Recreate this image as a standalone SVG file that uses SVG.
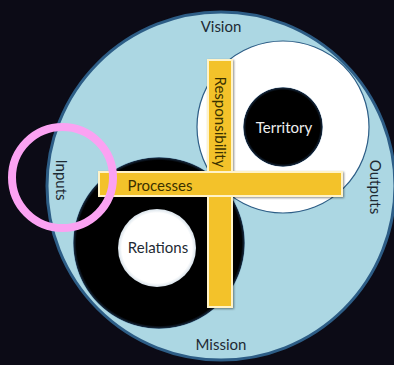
<svg xmlns="http://www.w3.org/2000/svg" width="394" height="365" viewBox="0 0 394 365">
<style>
.lbl{font-family:Lato,"Open Sans","Liberation Sans",sans-serif;font-size:15px;text-anchor:middle;dominant-baseline:central}
.dark{fill:#1e2a33}
.bar{fill:#f3c22b;stroke:#fff3c8;stroke-width:2}
</style>
<defs>
<radialGradient id="blk" cx="0.5" cy="0.5" r="0.5">
<stop offset="0.92" stop-color="#000"/>
<stop offset="0.98" stop-color="#15263a"/>
<stop offset="1" stop-color="#2d5d86" stop-opacity="0.3"/>
</radialGradient>
<radialGradient id="blk2" cx="0.5" cy="0.5" r="0.5">
<stop offset="0.96" stop-color="#000"/>
<stop offset="0.99" stop-color="#15263a"/>
<stop offset="1" stop-color="#2d5d86" stop-opacity="0.4"/>
</radialGradient>
<radialGradient id="wht" cx="0.5" cy="0.5" r="0.5">
<stop offset="0.9" stop-color="#fff"/>
<stop offset="1" stop-color="#d8e2ea"/>
</radialGradient>
<filter id="sh" x="-20%" y="-20%" width="140%" height="140%">
<feDropShadow dx="1" dy="1" stdDeviation="1.2" flood-color="#000" flood-opacity="0.45"/>
</filter>
</defs>
<rect width="394" height="365" fill="#0c0b16"/>
<g id="outer">
<circle cx="221" cy="186" r="174" fill="#acd7e3" stroke="#2d5d86" stroke-width="3"/>
</g>
<g id="territory-ring">
<circle cx="283" cy="127" r="86" fill="#fff" stroke="#2d5d86" stroke-width="1.2"/>
</g>
<g id="territory">
<circle cx="283" cy="127" r="40" fill="url(#blk)"/>
<text class="lbl" x="284" y="127" fill="#eeeeee">Territory</text>
</g>
<g id="relations-ring">
<circle cx="159" cy="243" r="86" fill="url(#blk2)"/>
</g>
<g id="relations">
<circle cx="157" cy="248" r="39" fill="url(#wht)"/>
<text class="lbl dark" x="158" y="247">Relations</text>
</g>
<g id="cross" filter="url(#sh)">
<rect class="bar" x="208" y="60" width="24" height="247"/>
<rect class="bar" x="99" y="172" width="243" height="24"/>
<rect x="209" y="173" width="22" height="22" fill="#f3c22b"/>
</g>
<g id="processes">
<text class="lbl" x="160" y="185" fill="#3a3100">Processes</text>
</g>
<g id="responsibility">
<text class="lbl" transform="translate(221,122) rotate(90)" fill="#3a3100">Responsibility</text>
</g>
<g id="vision"><text class="lbl dark" x="221" y="26">Vision</text></g>
<g id="mission"><text class="lbl dark" x="221" y="344">Mission</text></g>
<g id="inputs"><text class="lbl dark" transform="translate(62,180) rotate(90)">Inputs</text></g>
<g id="outputs"><text class="lbl dark" transform="translate(376,187) rotate(90)">Outputs</text></g>
<g id="highlight">
<circle cx="62.5" cy="177.5" r="50.5" fill="none" stroke="#fba2f2" stroke-width="8"/>
</g>
</svg>
